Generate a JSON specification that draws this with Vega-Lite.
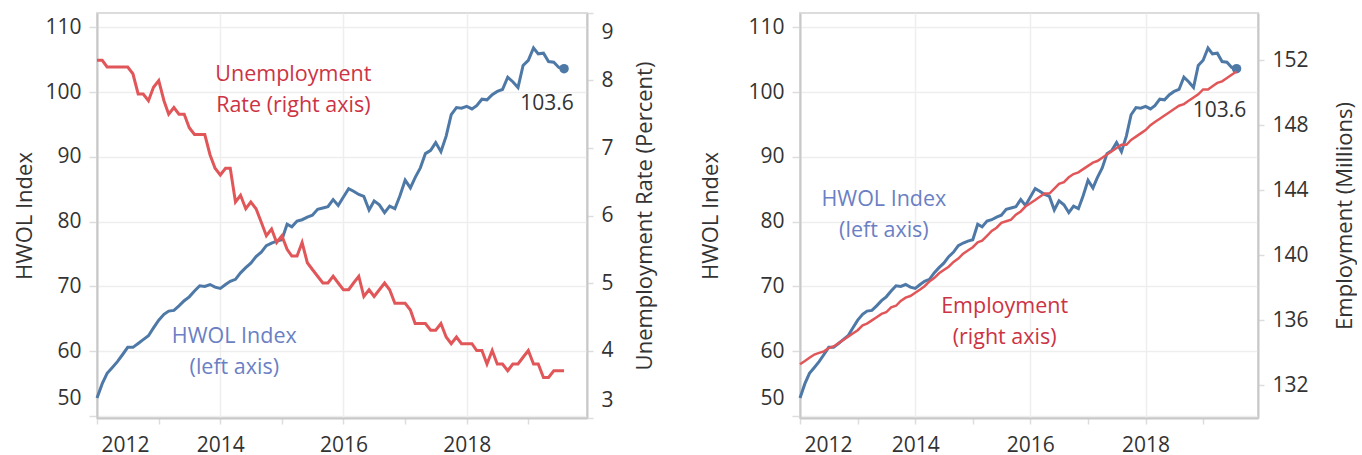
{
  "$schema": "https://vega.github.io/schema/vega-lite/v6.json",
  "padding": {"left": 12, "top": 11, "right": 0, "bottom": 0},
  "background": "white",
  "config": {
    "font": "Open Sans",
    "view": {"stroke": "#dcdcdc", "strokeWidth": 2},
    "axis": {
      "labelFont": "Open Sans", "labelFontSize": 21, "labelColor": "#333333",
      "titleFont": "Open Sans", "titleFontSize": 22, "titleFontWeight": "normal", "titleColor": "#333333",
      "domainColor": "#c8c8c8", "domainWidth": 2,
      "tickColor": "#dddddd", "tickWidth": 1.5,
      "gridColor": "#eeeeee", "gridWidth": 1.5
    },
    "text": {"font": "Open Sans"}
  },
  "datasets": {
    "d": [
      {"date": "2012-01-01", "hwol": 52.8, "ur": 8.3, "emp": 133.3},
      {"date": "2012-02-01", "hwol": 55.0, "ur": 8.3, "emp": 133.5},
      {"date": "2012-03-01", "hwol": 56.6, "ur": 8.2, "emp": 133.7},
      {"date": "2012-04-01", "hwol": 57.5, "ur": 8.2, "emp": 133.9},
      {"date": "2012-05-01", "hwol": 58.4, "ur": 8.2, "emp": 134.0},
      {"date": "2012-06-01", "hwol": 59.5, "ur": 8.2, "emp": 134.1},
      {"date": "2012-07-01", "hwol": 60.6, "ur": 8.2, "emp": 134.3},
      {"date": "2012-08-01", "hwol": 60.6, "ur": 8.1, "emp": 134.4},
      {"date": "2012-09-01", "hwol": 61.2, "ur": 7.8, "emp": 134.6},
      {"date": "2012-10-01", "hwol": 61.8, "ur": 7.8, "emp": 134.8},
      {"date": "2012-11-01", "hwol": 62.4, "ur": 7.7, "emp": 135.0},
      {"date": "2012-12-01", "hwol": 63.6, "ur": 7.9, "emp": 135.2},
      {"date": "2013-01-01", "hwol": 64.8, "ur": 8.0, "emp": 135.4},
      {"date": "2013-02-01", "hwol": 65.7, "ur": 7.7, "emp": 135.7},
      {"date": "2013-03-01", "hwol": 66.2, "ur": 7.5, "emp": 135.8},
      {"date": "2013-04-01", "hwol": 66.3, "ur": 7.6, "emp": 136.0},
      {"date": "2013-05-01", "hwol": 67.0, "ur": 7.5, "emp": 136.2},
      {"date": "2013-06-01", "hwol": 67.8, "ur": 7.5, "emp": 136.4},
      {"date": "2013-07-01", "hwol": 68.4, "ur": 7.3, "emp": 136.5},
      {"date": "2013-08-01", "hwol": 69.3, "ur": 7.2, "emp": 136.8},
      {"date": "2013-09-01", "hwol": 70.1, "ur": 7.2, "emp": 136.9},
      {"date": "2013-10-01", "hwol": 70.0, "ur": 7.2, "emp": 137.2},
      {"date": "2013-11-01", "hwol": 70.3, "ur": 6.9, "emp": 137.4},
      {"date": "2013-12-01", "hwol": 69.9, "ur": 6.7, "emp": 137.5},
      {"date": "2014-01-01", "hwol": 69.7, "ur": 6.6, "emp": 137.7},
      {"date": "2014-02-01", "hwol": 70.3, "ur": 6.7, "emp": 137.9},
      {"date": "2014-03-01", "hwol": 70.8, "ur": 6.7, "emp": 138.1},
      {"date": "2014-04-01", "hwol": 71.1, "ur": 6.2, "emp": 138.4},
      {"date": "2014-05-01", "hwol": 72.1, "ur": 6.3, "emp": 138.6},
      {"date": "2014-06-01", "hwol": 72.9, "ur": 6.1, "emp": 138.9},
      {"date": "2014-07-01", "hwol": 73.6, "ur": 6.2, "emp": 139.1},
      {"date": "2014-08-01", "hwol": 74.6, "ur": 6.1, "emp": 139.3},
      {"date": "2014-09-01", "hwol": 75.3, "ur": 5.9, "emp": 139.6},
      {"date": "2014-10-01", "hwol": 76.3, "ur": 5.7, "emp": 139.8},
      {"date": "2014-11-01", "hwol": 76.7, "ur": 5.8, "emp": 140.1},
      {"date": "2014-12-01", "hwol": 77.0, "ur": 5.6, "emp": 140.3},
      {"date": "2015-01-01", "hwol": 77.2, "ur": 5.7, "emp": 140.5},
      {"date": "2015-02-01", "hwol": 79.6, "ur": 5.5, "emp": 140.8},
      {"date": "2015-03-01", "hwol": 79.2, "ur": 5.4, "emp": 140.9},
      {"date": "2015-04-01", "hwol": 80.1, "ur": 5.4, "emp": 141.2},
      {"date": "2015-05-01", "hwol": 80.3, "ur": 5.6, "emp": 141.5},
      {"date": "2015-06-01", "hwol": 80.7, "ur": 5.3, "emp": 141.7},
      {"date": "2015-07-01", "hwol": 81.0, "ur": 5.2, "emp": 142.0},
      {"date": "2015-08-01", "hwol": 81.9, "ur": 5.1, "emp": 142.1},
      {"date": "2015-09-01", "hwol": 82.1, "ur": 5.0, "emp": 142.2},
      {"date": "2015-10-01", "hwol": 82.3, "ur": 5.0, "emp": 142.5},
      {"date": "2015-11-01", "hwol": 83.4, "ur": 5.1, "emp": 142.7},
      {"date": "2015-12-01", "hwol": 82.5, "ur": 5.0, "emp": 143.0},
      {"date": "2016-01-01", "hwol": 83.8, "ur": 4.9, "emp": 143.2},
      {"date": "2016-02-01", "hwol": 85.1, "ur": 4.9, "emp": 143.4},
      {"date": "2016-03-01", "hwol": 84.7, "ur": 5.0, "emp": 143.6},
      {"date": "2016-04-01", "hwol": 84.2, "ur": 5.1, "emp": 143.8},
      {"date": "2016-05-01", "hwol": 83.9, "ur": 4.8, "emp": 143.8},
      {"date": "2016-06-01", "hwol": 81.8, "ur": 4.9, "emp": 144.1},
      {"date": "2016-07-01", "hwol": 83.2, "ur": 4.8, "emp": 144.4},
      {"date": "2016-08-01", "hwol": 82.6, "ur": 4.9, "emp": 144.5},
      {"date": "2016-09-01", "hwol": 81.4, "ur": 5.0, "emp": 144.8},
      {"date": "2016-10-01", "hwol": 82.4, "ur": 4.9, "emp": 145.0},
      {"date": "2016-11-01", "hwol": 82.0, "ur": 4.7, "emp": 145.1},
      {"date": "2016-12-01", "hwol": 84.0, "ur": 4.7, "emp": 145.3},
      {"date": "2017-01-01", "hwol": 86.4, "ur": 4.7, "emp": 145.5},
      {"date": "2017-02-01", "hwol": 85.2, "ur": 4.6, "emp": 145.7},
      {"date": "2017-03-01", "hwol": 86.8, "ur": 4.4, "emp": 145.8},
      {"date": "2017-04-01", "hwol": 88.3, "ur": 4.4, "emp": 146.0},
      {"date": "2017-05-01", "hwol": 90.5, "ur": 4.4, "emp": 146.2},
      {"date": "2017-06-01", "hwol": 91.0, "ur": 4.3, "emp": 146.4},
      {"date": "2017-07-01", "hwol": 92.2, "ur": 4.3, "emp": 146.6},
      {"date": "2017-08-01", "hwol": 90.8, "ur": 4.4, "emp": 146.8},
      {"date": "2017-09-01", "hwol": 93.2, "ur": 4.2, "emp": 146.8},
      {"date": "2017-10-01", "hwol": 96.5, "ur": 4.1, "emp": 147.1},
      {"date": "2017-11-01", "hwol": 97.6, "ur": 4.2, "emp": 147.3},
      {"date": "2017-12-01", "hwol": 97.5, "ur": 4.1, "emp": 147.5},
      {"date": "2018-01-01", "hwol": 97.8, "ur": 4.1, "emp": 147.7},
      {"date": "2018-02-01", "hwol": 97.4, "ur": 4.1, "emp": 148.0},
      {"date": "2018-03-01", "hwol": 97.9, "ur": 4.0, "emp": 148.2},
      {"date": "2018-04-01", "hwol": 98.9, "ur": 4.0, "emp": 148.4},
      {"date": "2018-05-01", "hwol": 98.8, "ur": 3.8, "emp": 148.6},
      {"date": "2018-06-01", "hwol": 99.6, "ur": 4.0, "emp": 148.8},
      {"date": "2018-07-01", "hwol": 100.1, "ur": 3.8, "emp": 149.0},
      {"date": "2018-08-01", "hwol": 100.4, "ur": 3.8, "emp": 149.2},
      {"date": "2018-09-01", "hwol": 102.3, "ur": 3.7, "emp": 149.3},
      {"date": "2018-10-01", "hwol": 101.6, "ur": 3.8, "emp": 149.5},
      {"date": "2018-11-01", "hwol": 100.7, "ur": 3.8, "emp": 149.7},
      {"date": "2018-12-01", "hwol": 104.1, "ur": 3.9, "emp": 149.9},
      {"date": "2019-01-01", "hwol": 104.9, "ur": 4.0, "emp": 150.2},
      {"date": "2019-02-01", "hwol": 106.8, "ur": 3.8, "emp": 150.2},
      {"date": "2019-03-01", "hwol": 105.9, "ur": 3.8, "emp": 150.4},
      {"date": "2019-04-01", "hwol": 106.0, "ur": 3.6, "emp": 150.6},
      {"date": "2019-05-01", "hwol": 104.7, "ur": 3.6, "emp": 150.7},
      {"date": "2019-06-01", "hwol": 104.6, "ur": 3.7, "emp": 150.9},
      {"date": "2019-07-01", "hwol": 103.8, "ur": 3.7, "emp": 151.1},
      {"date": "2019-08-01", "hwol": 103.6, "ur": 3.7, "emp": 151.3}
    ],
    "notes": [
      {"panel": "L", "series": "ur", "date": "2015-03-10", "y": 102.6, "text": "Unemployment\nRate (right axis)"},
      {"panel": "L", "series": "hwol", "date": "2014-03-25", "y": 62.2, "text": "HWOL Index\n(left axis)"},
      {"panel": "R", "series": "hwol", "date": "2013-06-16", "y": 83.3, "text": "HWOL Index\n(left axis)"},
      {"panel": "R", "series": "emp", "date": "2015-07-22", "y": 66.8, "text": "Employment\n(right axis)"}
    ]
  },
  "data": {"name": "d"},
  "spacing": 41,
  "hconcat": [
    {
      "width": 490,
      "height": 405,
      "layer": [
        {
          "layer": [
            {
              "mark": {"type": "line", "color": "#4e79a7", "strokeWidth": 3},
              "encoding": {
                "x": {
                  "field": "date", "type": "temporal", "title": null,
                  "scale": {"type": "utc", "domain": [{"year": 2012, "month": 1, "date": 1, "utc": true}, {"year": 2019, "month": 12, "date": 15, "utc": true}]},
                  "axis": {
                    "values": [{"year": 2012, "month": 1, "date": 1, "utc": true}, {"year": 2013, "month": 1, "date": 1, "utc": true}, {"year": 2014, "month": 1, "date": 1, "utc": true}, {"year": 2015, "month": 1, "date": 1, "utc": true}, {"year": 2016, "month": 1, "date": 1, "utc": true}, {"year": 2017, "month": 1, "date": 1, "utc": true}, {"year": 2018, "month": 1, "date": 1, "utc": true}, {"year": 2019, "month": 1, "date": 1, "utc": true}],
                    "labelExpr": "utcyear(datum.value) % 2 == 0 ? utcFormat(datum.value, '%Y') : ''",
                    "grid": true,
                    "gridOpacity": {"condition": {"test": "utcyear(datum.value) % 2 == 1", "value": 0}, "value": 1},
                    "tickSize": 6, "labelPadding": 10, "labelFlush": 2, "labelFlushOffset": -4
                  }
                },
                "y": {
                  "field": "hwol", "type": "quantitative", "title": "HWOL Index",
                  "scale": {"domain": [49.7, 112.2], "nice": false, "zero": false},
                  "axis": {"orient": "left", "values": [50, 60, 70, 80, 90, 100, 110], "grid": true, "tickSize": 8, "labelPadding": 8, "labelFlush": 3, "labelFlushOffset": -8, "titlePadding": 8}
                }
              }
            },
            {
              "transform": [{"filter": "utcyear(datum.date) == 2019 && utcmonth(datum.date) == 7"}],
              "mark": {"type": "point", "filled": true, "size": 90, "color": "#4e79a7", "opacity": 1},
              "encoding": {
                "x": {"field": "date", "type": "temporal", "title": null},
                "y": {"field": "hwol", "type": "quantitative", "title": "HWOL Index"}
              }
            },
            {
              "transform": [{"filter": "utcyear(datum.date) == 2019 && utcmonth(datum.date) == 7"}],
              "mark": {"type": "text", "dx": -17, "dy": 35, "fontSize": 21, "color": "#333333"},
              "encoding": {
                "x": {"field": "date", "type": "temporal", "title": null},
                "y": {"field": "hwol", "type": "quantitative", "title": "HWOL Index"},
                "text": {"field": "hwol", "type": "quantitative", "format": ".1f"}
              }
            },
            {
              "data": {"name": "notes"},
              "transform": [{"filter": "datum.panel == 'L' && datum.series == 'hwol'"}],
              "mark": {"type": "text", "lineBreak": "\n", "lineHeight": 31, "fontSize": 21.5, "color": "#6b7fc4"},
              "encoding": {
                "x": {"field": "date", "type": "temporal", "title": null},
                "y": {"field": "y", "type": "quantitative", "title": "HWOL Index"},
                "text": {"field": "text", "type": "nominal"}
              }
            },
            {
              "data": {"name": "notes"},
              "transform": [{"filter": "datum.panel == 'L' && datum.series == 'ur'"}],
              "mark": {"type": "text", "lineBreak": "\n", "lineHeight": 31, "fontSize": 21.5, "color": "#cc3344"},
              "encoding": {
                "x": {"field": "date", "type": "temporal", "title": null},
                "y": {"field": "y", "type": "quantitative", "title": "HWOL Index"},
                "text": {"field": "text", "type": "nominal"}
              }
            }
          ]
        },
        {
          "mark": {"type": "line", "color": "#e15759", "strokeWidth": 3},
          "encoding": {
            "x": {"field": "date", "type": "temporal", "title": null},
            "y": {
              "field": "ur", "type": "quantitative", "title": "Unemployment Rate (Percent)",
              "scale": {"domain": [3, 9], "nice": false, "zero": false},
              "axis": {"orient": "right", "values": [3, 4, 5, 6, 7, 8, 9], "grid": false, "tickSize": 6, "labelPadding": 8, "labelFlush": 3, "labelFlushOffset": -8, "titlePadding": 21, "titleAngle": 270, "titleBaseline": "top"}
            }
          }
        }
      ],
      "resolve": {"scale": {"y": "independent"}, "axis": {"y": "independent"}}
    },
    {
      "width": 458,
      "height": 405,
      "layer": [
        {
          "layer": [
            {
              "mark": {"type": "line", "color": "#4e79a7", "strokeWidth": 3},
              "encoding": {
                "x": {
                  "field": "date", "type": "temporal", "title": null,
                  "scale": {"type": "utc", "domain": [{"year": 2012, "month": 1, "date": 1, "utc": true}, {"year": 2019, "month": 12, "date": 15, "utc": true}]},
                  "axis": {
                    "values": [{"year": 2012, "month": 1, "date": 1, "utc": true}, {"year": 2013, "month": 1, "date": 1, "utc": true}, {"year": 2014, "month": 1, "date": 1, "utc": true}, {"year": 2015, "month": 1, "date": 1, "utc": true}, {"year": 2016, "month": 1, "date": 1, "utc": true}, {"year": 2017, "month": 1, "date": 1, "utc": true}, {"year": 2018, "month": 1, "date": 1, "utc": true}, {"year": 2019, "month": 1, "date": 1, "utc": true}],
                    "labelExpr": "utcyear(datum.value) % 2 == 0 ? utcFormat(datum.value, '%Y') : ''",
                    "grid": true,
                    "gridOpacity": {"condition": {"test": "utcyear(datum.value) % 2 == 1", "value": 0}, "value": 1},
                    "tickSize": 6, "labelPadding": 10, "labelFlush": 2, "labelFlushOffset": -4
                  }
                },
                "y": {
                  "field": "hwol", "type": "quantitative", "title": "HWOL Index",
                  "scale": {"domain": [49.7, 112.2], "nice": false, "zero": false},
                  "axis": {"orient": "left", "values": [50, 60, 70, 80, 90, 100, 110], "grid": true, "tickSize": 8, "labelPadding": 8, "labelFlush": 3, "labelFlushOffset": -8, "titlePadding": 25}
                }
              }
            },
            {
              "transform": [{"filter": "utcyear(datum.date) == 2019 && utcmonth(datum.date) == 7"}],
              "mark": {"type": "point", "filled": true, "size": 90, "color": "#4e79a7", "opacity": 1},
              "encoding": {
                "x": {"field": "date", "type": "temporal", "title": null},
                "y": {"field": "hwol", "type": "quantitative", "title": "HWOL Index"}
              }
            },
            {
              "transform": [{"filter": "utcyear(datum.date) == 2019 && utcmonth(datum.date) == 7"}],
              "mark": {"type": "text", "dx": -17, "dy": 42, "fontSize": 21, "color": "#333333"},
              "encoding": {
                "x": {"field": "date", "type": "temporal", "title": null},
                "y": {"field": "hwol", "type": "quantitative", "title": "HWOL Index"},
                "text": {"field": "hwol", "type": "quantitative", "format": ".1f"}
              }
            },
            {
              "data": {"name": "notes"},
              "transform": [{"filter": "datum.panel == 'R' && datum.series == 'hwol'"}],
              "mark": {"type": "text", "lineBreak": "\n", "lineHeight": 31, "fontSize": 21.5, "color": "#6b7fc4"},
              "encoding": {
                "x": {"field": "date", "type": "temporal", "title": null},
                "y": {"field": "y", "type": "quantitative", "title": "HWOL Index"},
                "text": {"field": "text", "type": "nominal"}
              }
            },
            {
              "data": {"name": "notes"},
              "transform": [{"filter": "datum.panel == 'R' && datum.series == 'emp'"}],
              "mark": {"type": "text", "lineBreak": "\n", "lineHeight": 31, "fontSize": 21.5, "color": "#cc3344"},
              "encoding": {
                "x": {"field": "date", "type": "temporal", "title": null},
                "y": {"field": "y", "type": "quantitative", "title": "HWOL Index"},
                "text": {"field": "text", "type": "nominal"}
              }
            }
          ]
        },
        {
          "mark": {"type": "line", "color": "#e15759", "strokeWidth": 2.5},
          "encoding": {
            "x": {"field": "date", "type": "temporal", "title": null},
            "y": {
              "field": "emp", "type": "quantitative", "title": "Employment (Millions)",
              "scale": {"domain": [130, 154.9], "nice": false, "zero": false},
              "axis": {"orient": "right", "values": [132, 136, 140, 144, 148, 152], "grid": false, "tickSize": 6, "labelPadding": 8, "titlePadding": 26, "titleAngle": 270, "titleBaseline": "top"}
            }
          }
        }
      ],
      "resolve": {"scale": {"y": "independent"}, "axis": {"y": "independent"}}
    }
  ]
}
